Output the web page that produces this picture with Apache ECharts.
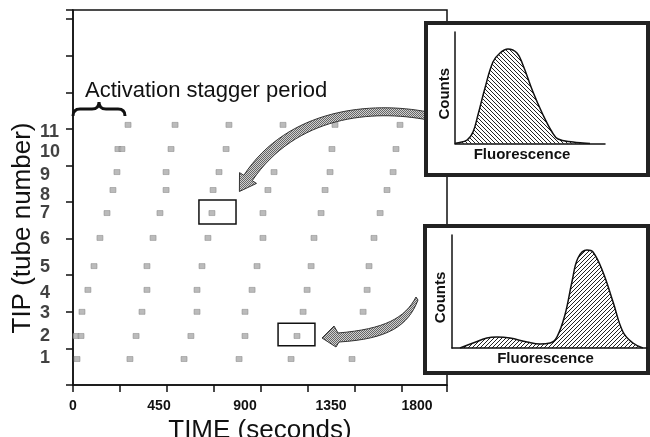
<!DOCTYPE html>
<html><head><meta charset="utf-8">
<script src="https://cdn.jsdelivr.net/npm/echarts@6/dist/echarts.min.js"></script>
<style>html,body{margin:0;padding:0;background:#fff}#c{width:650px;height:437px}</style>
</head><body><div id="c"></div>
<script>
// ---- data ----
const xTickLabels = [0, 450, 900, 1350, 1800];
const tubeLabels = ['1','2','3','4','5','6','7','8','9','10','11'];
const tubeLabelY = [0.74, 1.34, 1.97, 2.51, 3.22, 3.99, 4.70, 5.19, 5.74, 6.37, 6.91];
const tubeRowY   = [0.71, 1.34, 2.00, 2.60, 3.25, 4.02, 4.70, 5.33, 5.82, 6.45, 7.11];
const tube1  = [21, 298, 581, 869, 1141, 1460];
const tube2  = [16, 42, 330, 617, 900, 1172];
const tube3  = [47, 361, 649, 900, 1204, 1518];
const tube4  = [78, 387, 649, 937, 1225, 1539];
const tube5  = [110, 387, 675, 963, 1246, 1549];
const tube6  = [141, 419, 706, 994, 1261, 1575];
const tube7  = [178, 455, 727, 994, 1298, 1607];
const tube8  = [209, 487, 733, 1020, 1319, 1643];
const tube9  = [230, 487, 764, 1052, 1345, 1675];
const tube10 = [235, 256, 513, 801, 1355, 1690];
const tube11 = [288, 534, 816, 1099, 1371, 1711];
const tubeTimes = [tube1, tube2, tube3, tube4, tube5, tube6, tube7, tube8, tube9, tube10, tube11];
// highlighted events: [t0, y0, t1, y1]
const highlightBoxes = [[659, 4.40, 853, 5.06], [1073, 1.07, 1266, 1.69]];
// inset histograms
const histTopFluor  = [0, 1.3, 8.0, 12.0, 15.3, 20.0, 25.3, 30.0, 35.3, 41.3, 45.3, 52.0, 58.7, 64.7, 68.7, 78.7, 85.3, 90.0];
const histTopCounts = [0, 0.4, 3.1, 10.3, 25.6, 49.8, 73.1, 81.2, 84.8, 81.2, 70.4, 46.2, 25.6, 10.3, 4.0, 1.3, 0.4, 0];
const histBotFluor  = [4.1, 10.8, 17.9, 23.1, 29.7, 38.5, 45.1, 50.3, 53.8, 57.9, 61.5, 64.6, 69.2, 72.3, 77.4, 82.6, 87.7, 92.8, 97.9];
const histBotCounts = [0, 4.4, 8.8, 9.7, 8.8, 5.3, 3.5, 4.4, 9.7, 29.2, 58.4, 79.6, 86.7, 85.0, 67.3, 40.7, 14.2, 4.4, 0];

// ---- helpers ----
function hatch(dir) {
  const c = document.createElement('canvas'); c.width = c.height = 4;
  const g = c.getContext('2d'); g.strokeStyle = '#222'; g.lineWidth = 1; g.beginPath();
  if (dir > 0) { g.moveTo(0,4); g.lineTo(4,0); g.moveTo(-1,1); g.lineTo(1,-1); g.moveTo(3,5); g.lineTo(5,3); }
  else { g.moveTo(0,0); g.lineTo(4,4); g.moveTo(-1,3); g.lineTo(1,5); g.moveTo(3,-1); g.lineTo(5,1); }
  g.stroke(); return c;
}
function stipple() {
  const c = document.createElement('canvas'); c.width = c.height = 2;
  const g = c.getContext('2d'); g.fillStyle = '#d0d0d0'; g.fillRect(0,0,2,2);
  g.fillStyle = '#666'; g.fillRect(0,0,1,1); g.fillRect(1,1,1,1); return c;
}
const FONT = '"Liberation Sans", Arial, Helvetica, sans-serif';
const INK = '#111';

const dotData = [];
tubeTimes.forEach((arr, i) => arr.forEach(t => dotData.push([t, tubeRowY[i]])));

const chart = echarts.init(document.getElementById('c'), null, {renderer: 'canvas'});
const stip = {image: stipple(), repeat: 'repeat'};

// annotation shapes (brace and arrows), drawn in pixel space
const annoPaths = [
  {d: 'M 73 116 Q 73 109 80 109 L 92 109 Q 99 109 99 102 Q 99 109 106 109 L 118 109 Q 125 109 125 116', fill: 'none', stroke: INK, lw: 3},
  {d: 'M 428 112 C 372 101 288 108 243.8 175.3 L 239.5 172.6 L 239.4 191.5 L 256.5 183.4 L 252.2 180.7 C 296 116 372 109 428 120 Z', fill: stip, stroke: '#333', lw: 1},
  {d: 'M 416 297 C 405 318 385 329 338 333 L 334 326 L 322 338 L 336 347 L 339 342 C 388 339 408 326 418 300 Z', fill: stip, stroke: '#333', lw: 1}
];

const insetAxis = {type: 'value', min: 0, max: 100, z: 60,
  axisLine: {show: true, lineStyle: {color: INK, width: 1.5}}, axisTick: {show: false},
  axisLabel: {show: false}, splitLine: {show: false}};

chart.setOption({
  animation: false,
  textStyle: {fontFamily: FONT},
  grid: [
    {left: 73, top: 10, width: 374, height: 375, outerBoundsMode: 'none', containLabel: false,
     show: true, borderColor: INK, borderWidth: 1.5, backgroundColor: 'transparent'},
    {left: 455, top: 32, width: 150, height: 111.5, outerBoundsMode: 'none', containLabel: false},
    {left: 452, top: 235, width: 195, height: 113, outerBoundsMode: 'none', containLabel: false}
  ],
  xAxis: [
    {gridIndex: 0, type: 'value', min: 0, max: 1957, interval: 450, position: 'bottom',
     axisLine: {lineStyle: {color: INK, width: 1.5}}, axisTick: {show: false}, splitLine: {show: false},
     axisLabel: {margin: 14, fontSize: 14, fontWeight: 'bold', color: INK, showMaxLabel: false,
       formatter: v => xTickLabels.indexOf(v) >= 0 ? String(v) : ''},
     name: 'TIME (seconds)', nameLocation: 'middle', nameGap: 27,
     nameTextStyle: {fontSize: 26, color: INK, fontFamily: FONT}},
    {gridIndex: 0, type: 'value', min: 0, max: 1957, interval: 246, position: 'bottom',
     axisLine: {show: false}, axisLabel: {show: false}, splitLine: {show: false},
     axisTick: {show: true, length: 7, lineStyle: {color: INK, width: 1.5}}},
    Object.assign({gridIndex: 1, name: 'Fluorescence', nameLocation: 'middle', nameGap: 4,
     nameTextStyle: {fontSize: 15, fontWeight: 'bold', color: INK, padding: [0, 16, 0, 0]}}, insetAxis),
    Object.assign({gridIndex: 2, name: 'Fluorescence', nameLocation: 'middle', nameGap: 3,
     nameTextStyle: {fontSize: 15, fontWeight: 'bold', color: INK, padding: [0, 8, 0, 0]}}, insetAxis)
  ],
  yAxis: [
    {gridIndex: 0, type: 'value', min: 0, max: 10.25, interval: 1,
     axisLine: {show: true, lineStyle: {color: INK, width: 1.5}},
     axisTick: {show: true, length: 7, lineStyle: {color: INK, width: 1.5}},
     axisLabel: {show: false}, splitLine: {show: false}},
    Object.assign({gridIndex: 1, name: 'Counts', nameLocation: 'middle', nameGap: 3,
     nameTextStyle: {fontSize: 15, fontWeight: 'bold', color: INK, padding: [0, 12, 0, 0]}}, insetAxis),
    Object.assign({gridIndex: 2, name: 'Counts', nameLocation: 'middle', nameGap: 4,
     nameTextStyle: {fontSize: 15, fontWeight: 'bold', color: INK, padding: [0, 12, 0, 0]}}, insetAxis)
  ],
  series: [
    {type: 'scatter', xAxisIndex: 0, yAxisIndex: 0, data: dotData, symbol: 'rect', symbolSize: [6, 5],
     itemStyle: {color: '#aaa', borderColor: '#808080', borderWidth: 0.6}, silent: true,
     markArea: {silent: true, label: {show: false},
       itemStyle: {color: 'rgba(0,0,0,0)', borderColor: INK, borderWidth: 1.5},
       data: highlightBoxes.map(b => [{coord: [b[0], b[1]]}, {coord: [b[2], b[3]]}])}},
    {type: 'scatter', xAxisIndex: 0, yAxisIndex: 0, clip: false, silent: true, symbolSize: 1,
     itemStyle: {color: 'rgba(0,0,0,0)'},
     data: tubeLabelY.map((y, i) => [0, y, tubeLabels[i]]),
     label: {show: true, position: 'inside', align: 'left', verticalAlign: 'middle', offset: [-33, 0],
       formatter: p => p.value[2], fontSize: 18, fontWeight: 'bold', color: INK, fontFamily: FONT}},
    {type: 'custom', coordinateSystem: 'none', z: 45, silent: true, data: annoPaths.map((a, i) => i),
     renderItem: (params) => {
       const a = annoPaths[params.dataIndex];
       return {type: 'path', shape: {pathData: a.d}, style: {fill: a.fill, stroke: a.stroke, lineWidth: a.lw}};
     }},
    {type: 'line', xAxisIndex: 2, yAxisIndex: 1, z: 60, smooth: 0.4, symbol: 'none',
     data: histTopFluor.map((f, i) => [f, histTopCounts[i]]),
     lineStyle: {color: INK, width: 1.5},
     areaStyle: {color: {image: hatch(-1), repeat: 'repeat'}, opacity: 1}},
    {type: 'line', xAxisIndex: 3, yAxisIndex: 2, z: 60, smooth: 0.4, symbol: 'none',
     data: histBotFluor.map((f, i) => [f, histBotCounts[i]]),
     lineStyle: {color: INK, width: 1.5},
     areaStyle: {color: {image: hatch(1), repeat: 'repeat'}, opacity: 1}}
  ],
  graphic: [
    {type: 'rect', z: 50, shape: {x: 426, y: 23, width: 222, height: 152}, style: {fill: '#fff', stroke: '#222', lineWidth: 4}},
    {type: 'rect', z: 50, shape: {x: 425, y: 226, width: 223, height: 147}, style: {fill: '#fff', stroke: '#222', lineWidth: 4}},
    {type: 'text', z: 55, x: 23, y: 228, rotation: Math.PI / 2,
     style: {text: 'TIP (tube number)', font: '26px ' + FONT, fill: INK, align: 'center', verticalAlign: 'middle'}},
    {type: 'text', z: 55, x: 85, y: 91,
     style: {text: 'Activation stagger period', font: '22px ' + FONT, fill: INK, align: 'left', verticalAlign: 'middle'}}
  ]
});
</script></body></html>
